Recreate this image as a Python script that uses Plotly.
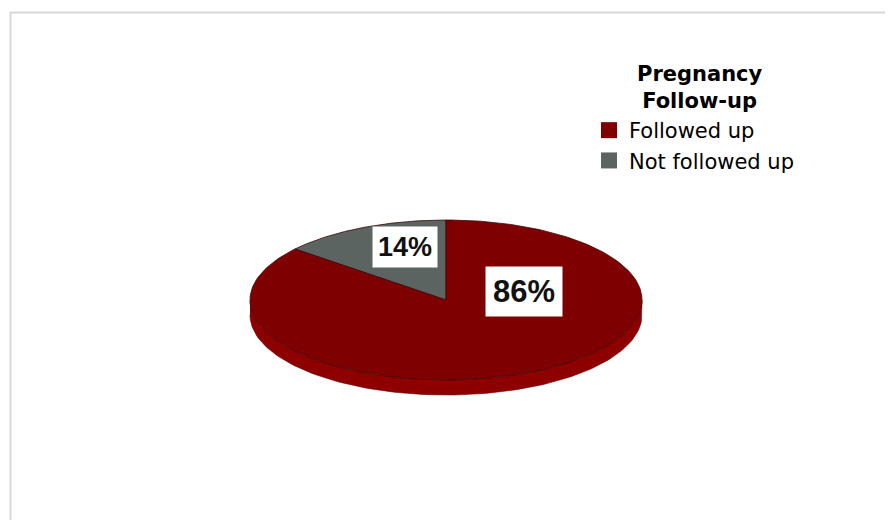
import numpy as np
import plotly.graph_objects as go

# ---- data ----
categories = ["Followed up", "Not followed up"]
values = [86, 14]
colors = ["#7e0000", "#5b6461"]
side_colors = ["#8e0000", "#4a5250"]
legend_title = "Pregnancy<br>Follow-up"

# ---- geometry / style (layout only) ----
OFF = 8                    # page body margin
W, H = 893 - OFF, 520 - OFF
CX, CY = 446 - OFF, 300 - OFF   # pixel centre of top face
RX, RY = 196, 80                # pixel radii of top face
DEPTH = 15 / RY                 # side thickness in y-units
START = 90                      # first slice starts at 12 o'clock
order = [1, 0]                  # counter-clockwise drawing order

fig = go.Figure()

total = sum(values)
angles = {}
a = START
for i in order:
    span = 360 * values[i] / total
    angles[i] = (a, a + span)
    a += span

# side (visible front half: 180..360 deg)
for i in order:
    a0, a1 = angles[i]
    for k in range(-1, 2):
        lo = max(a0, 180 + 360 * k)
        hi = min(a1, 360 + 360 * k)
        if hi <= lo:
            continue
        t = np.radians(np.linspace(lo, hi, 120))
        xs = np.concatenate([np.cos(t), np.cos(t[::-1])])
        ys = np.concatenate([np.sin(t), np.sin(t[::-1]) - DEPTH])
        fig.add_trace(go.Scatter(x=xs, y=ys, fill="toself", mode="lines",
                                 fillcolor=side_colors[i],
                                 line=dict(color="#6a0000", width=0.6),
                                 hoverinfo="skip", showlegend=False))

# top faces
for i in order:
    a0, a1 = angles[i]
    t = np.radians(np.linspace(a0, a1, 200))
    xs = np.concatenate([[0], np.cos(t), [0]])
    ys = np.concatenate([[0], np.sin(t), [0]])
    fig.add_trace(go.Scatter(x=xs, y=ys, fill="toself", mode="lines",
                             fillcolor=colors[i],
                             line=dict(color="#3a0a0a", width=0.8),
                             name=categories[i], hoverinfo="name",
                             showlegend=False))

# legend entries
for i in range(len(categories)):
    fig.add_trace(go.Scatter(x=[None], y=[None], mode="markers",
                             marker=dict(symbol="square", size=17, color=colors[i]),
                             name=categories[i], showlegend=True))

# labels
label_pos = {0: (0.40, 0.11), 1: (-0.21, 0.66)}
label_size = {0: 31, 1: 27}
label_pad = {0: 7, 1: 5}
for i in range(len(categories)):
    lx, ly = label_pos[i]
    fig.add_annotation(x=lx, y=ly, text=f"<b>{values[i]}%</b>", showarrow=False,
                       font=dict(family="Liberation Sans, Arial", size=label_size[i], color="#111111"),
                       bgcolor="white", borderpad=label_pad[i])

# legend title (centred)
fig.add_annotation(xref="paper", yref="paper",
                   x=(700 - OFF) / W, y=1 - (87 - OFF) / H,
                   text=f"<b>{legend_title}</b>", showarrow=False,
                   xanchor="center", yanchor="middle", align="center",
                   font=dict(family="DejaVu Sans", size=21, color="black"))

# frame
fig.add_shape(type="rect", xref="paper", yref="paper",
              x0=(10.5 - OFF) / W, x1=1.1, y0=-0.1, y1=1 - (12.5 - OFF) / H,
              line=dict(color="#d8d8d8", width=2), fillcolor="rgba(0,0,0,0)")

fig.update_layout(
    width=W, height=H,
    margin=dict(l=0, r=0, t=0, b=0),
    paper_bgcolor="white", plot_bgcolor="white",
    xaxis=dict(range=[-CX / RX, (W - CX) / RX], visible=False, fixedrange=True),
    yaxis=dict(range=[(CY - H) / RY, CY / RY], visible=False, fixedrange=True),
    showlegend=True,
    legend=dict(
        x=(589 - OFF) / W, y=1 - (110 - OFF) / H, xanchor="left", yanchor="top",
        font=dict(family="DejaVu Sans", size=21, color="black"),
        bgcolor="rgba(0,0,0,0)", itemwidth=30, tracegroupgap=0,
    ),
)

fig.write_html("out.html")
